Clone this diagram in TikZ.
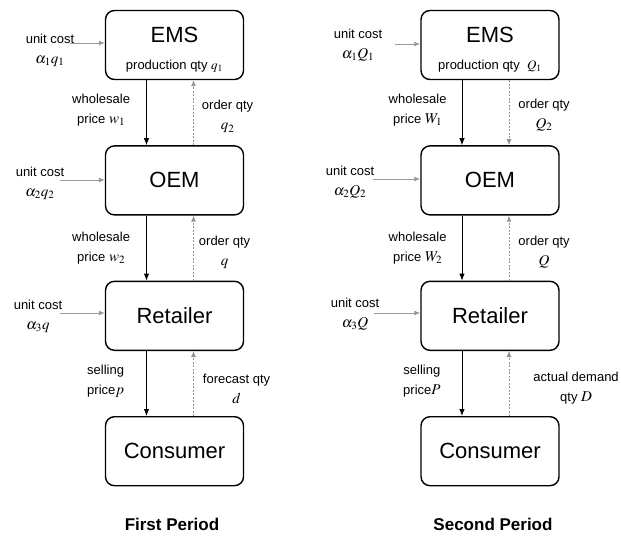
\documentclass[tikz,border=0pt]{standalone}
\usepackage{mathptmx}
\usepackage{fontspec}
\setmainfont{Liberation Sans}
\usetikzlibrary{positioning, arrows.meta}

\newcommand{\qsym}[1]{{\fontsize{15}{15}\selectfont$#1$}}

\tikzset{
  box/.style={draw, rounded corners=9pt, line width=1.4pt, minimum width=138pt,
    minimum height=69pt, inner sep=2pt, align=center, font=\fontsize{22}{26}\selectfont},
  price/.style={-{Latex[length=7pt,width=5.5pt]}, line width=0.9pt},
  order/.style={-{Latex[length=6pt,width=5pt]}, gray!85, line width=0.9pt, dash pattern=on 2pt off 1.5pt},
  cost/.style={-{Latex[length=6pt,width=5pt]}, gray!80, line width=1pt},
  lbl/.style={align=center, inner sep=0pt, text=black, font=\fontsize{13}{20}\selectfont},
  period/.style={font=\fontsize{17}{17}\selectfont\bfseries}
}

\begin{document}
\begin{tikzpicture}[x=1pt, y=-1pt]
  \useasboundingbox (0,0) rectangle (621,536);

  % First period chain
  \node[box] (emsA) at (174.5,45) {\rule{0pt}{25pt}EMS\\[1pt]{\fontsize{13}{15}\selectfont production qty $q_1$}};
  \node[box, below=65pt of emsA] (oemA) {OEM};
  \node[box, below=65pt of oemA] (retA) {Retailer};
  \node[box, below=65pt of retA] (conA) {Consumer};

  % Second period chain
  \node[box] (emsB) at (490,45) {\rule{0pt}{25pt}EMS\\[1pt]{\fontsize{13}{15}\selectfont production qty \ $Q_1$}};
  \node[box, below=65pt of emsB] (oemB) {OEM};
  \node[box, below=65pt of oemB] (retB) {Retailer};
  \node[box, below=65pt of retB] (conB) {Consumer};

  % Prices going down, quantities going up (first period)
  \draw[price] ([xshift=-28pt]emsA.south) -- ([xshift=-28pt]oemA.north)
    node[midway, left=16pt, yshift=3pt, lbl] (wpA1) {wholesale\\price \qsym{w_1}};
  \draw[order] ([xshift=19pt]oemA.north) -- ([xshift=19pt]emsA.south)
    node[midway, right=8pt, yshift=-4pt, lbl] (oqA1) {order qty\\\qsym{q_2}};
  \draw[price] ([xshift=-28pt]oemA.south) -- ([xshift=-28pt]retA.north)
    node[midway, left=16pt, lbl] (wpA2) {wholesale\\price \qsym{w_2}};
  \draw[order] ([xshift=19pt]retA.north) -- ([xshift=19pt]oemA.south)
    node[midway, right=5pt, yshift=-4pt, lbl] (oqA2) {order qty\\\qsym{q}};
  \draw[price] ([xshift=-28pt]retA.south) -- ([xshift=-28pt]conA.north)
    node[midway, left=22pt, yshift=2pt, lbl] (spA) {selling\\price\qsym{p}};
  \draw[order] ([xshift=19pt]conA.north) -- ([xshift=19pt]retA.south)
    node[midway, right=9pt, yshift=-5pt, lbl] (fqA) {forecast qty\\\qsym{d}};

  % Prices and quantities (second period)
  \draw[price] ([xshift=-28pt]emsB.south) -- ([xshift=-28pt]oemB.north)
    node[midway, left=15pt, yshift=3pt, lbl] (wpB1) {wholesale\\price \qsym{W_1}};
  \draw[order] ([xshift=19pt]emsB.south) -- ([xshift=19pt]oemB.north)
    node[midway, right=9pt, yshift=-2pt, lbl] (oqB1) {order qty\\\qsym{Q_2}};
  \draw[price] ([xshift=-28pt]oemB.south) -- ([xshift=-28pt]retB.north)
    node[midway, left=15pt, lbl] (wpB2) {wholesale\\price \qsym{W_2}};
  \draw[order] ([xshift=19pt]retB.north) -- ([xshift=19pt]oemB.south)
    node[midway, right=9pt, yshift=-4pt, lbl] (oqB2) {order qty\\\qsym{Q}};
  \draw[price] ([xshift=-28pt]retB.south) -- ([xshift=-28pt]conB.north)
    node[midway, left=21pt, yshift=2pt, lbl] (spB) {selling\\price\qsym{P}};
  \draw[order] ([xshift=19pt]conB.north) -- ([xshift=19pt]retB.south)
    node[midway, right=24pt, yshift=-5pt, lbl] (dqB) {actual demand\\qty \qsym{D}};

  % Unit costs coming in from the left
  \node[lbl] (ucA1) at (50,50) {unit cost\\\qsym{\alpha_1 q_1}};
  \node[lbl] (ucA2) at (40,183) {unit cost\\\qsym{\alpha_2 q_2}};
  \node[lbl] (ucA3) at (38,316) {unit cost\\\qsym{\alpha_3 q}};
  \node[lbl] (ucB1) at (358,45) {unit cost\\\qsym{\alpha_1 Q_1}};
  \node[lbl] (ucB2) at (350,182) {unit cost\\\qsym{\alpha_2 Q_2}};
  \node[lbl] (ucB3) at (355,314) {unit cost\\\qsym{\alpha_3 Q}};
  \coordinate (cA1) at (70,43);
  \coordinate (cA2) at (60,180);
  \coordinate (cA3) at (60,313);
  \coordinate (cB1) at (395,44);
  \coordinate (cB2) at (373,179);
  \coordinate (cB3) at (374,313);
  \draw[cost] (cA1) -- (emsA.west |- cA1);
  \draw[cost] (cA2) -- (oemA.west |- cA2);
  \draw[cost] (cA3) -- (retA.west |- cA3);
  \draw[cost] (cB1) -- (emsB.west |- cB1);
  \draw[cost] (cB2) -- (oemB.west |- cB2);
  \draw[cost] (cB3) -- (retB.west |- cB3);

  % Titles
  \node[period] (perA) at (172,524) {First Period};
  \node[period] (perB) at (493,524) {Second Period};
\end{tikzpicture}
\end{document}
